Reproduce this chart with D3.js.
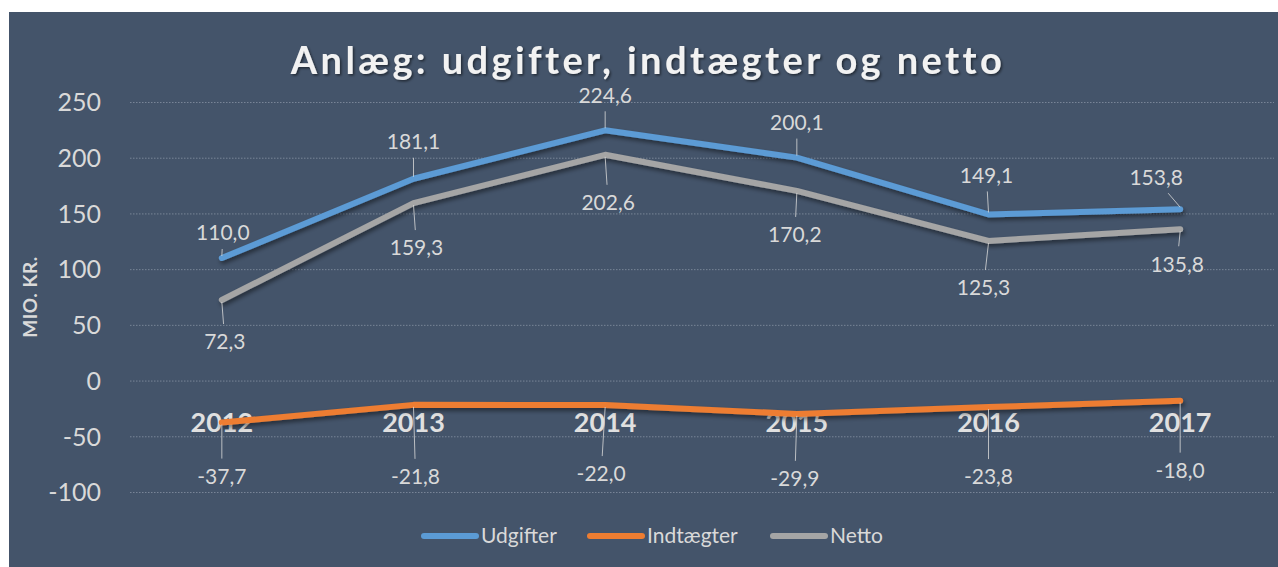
<!DOCTYPE html>
<html lang="da">
<head>
<meta charset="UTF-8">
<title>Anlæg: udgifter, indtægter og netto</title>
<style>
  body { margin: 0; background: #fff; }
  svg { display: block; }
  text { font-family: Lato, "Open Sans", sans-serif; }
</style>
</head>
<body>
<div id="chart"></div>
<script src="https://d3js.org/d3.v7.min.js"></script>
<script>
// data
var years = ["2012", "2013", "2014", "2015", "2016", "2017"];
var udgifter = [110.0, 181.1, 224.6, 200.1, 149.1, 153.8];
var indtaegter = [-37.7, -21.8, -22.0, -29.9, -23.8, -18.0];
var netto = [72.3, 159.3, 202.6, 170.2, 125.3, 135.8];
var yTicks = [-100, -50, 0, 50, 100, 150, 200, 250];

// label offsets (px) from the point, per series
var udgOff = [[1, -25], [0, -37], [0, -35], [0, -35], [-2, -39], [-24, -32]];
var indOff = [[0, 54], [2, 72], [-4, 69], [-2, 65], [0, 70], [0, 70]];
var netOff = [[3, 42], [3, 45], [3, 48], [-2, 44], [-5, 47], [-3, 35]];

var W = 1278, H = 567;

var svg = d3.select("#chart").append("svg")
    .attr("width", W)
    .attr("height", H);

// shadow for lines and title
var defs = svg.append("defs");
var f = defs.append("filter").attr("id", "shadow")
    .attr("x", "-5%").attr("y", "-20%").attr("width", "110%").attr("height", "160%");
f.append("feDropShadow").attr("dx", 1.5).attr("dy", 3).attr("stdDeviation", 2)
    .attr("flood-color", "#000").attr("flood-opacity", 0.45);
var ft = defs.append("filter").attr("id", "tshadow");
ft.append("feDropShadow").attr("dx", 1.5).attr("dy", 1.5).attr("stdDeviation", 1.2)
    .attr("flood-color", "#000").attr("flood-opacity", 0.5);

// panel
svg.append("rect")
    .attr("x", 9).attr("y", 12)
    .attr("width", W - 9).attr("height", H - 12)
    .attr("fill", "#44546a");

var x = d3.scalePoint().domain(years).range([126, 1276]).padding(0.5);
var y = d3.scaleLinear().domain([-100, 250]).range([492, 102]);

// grid
svg.append("g").selectAll("line")
    .data(yTicks)
    .enter().append("line")
    .attr("x1", 130).attr("x2", 1274)
    .attr("y1", function(d) { return y(d) + 0.5; })
    .attr("y2", function(d) { return y(d) + 0.5; })
    .attr("stroke", "#8a95a6")
    .attr("stroke-width", 1)
    .attr("stroke-dasharray", "1.5,1.5")
    .attr("opacity", 0.75);

// y axis labels
var yAxis = d3.axisLeft(y).tickValues(yTicks).tickSize(0).tickPadding(0)
    .tickFormat(function(d) { return d3.format("d")(d).replace("−", "-"); });
var ya = svg.append("g").attr("transform", "translate(101,0)").call(yAxis);
ya.select(".domain").remove();
ya.selectAll("text")
    .attr("fill", "#d9d9d9")
    .style("font-size", "25px")
    .style("font-family", "Lato, sans-serif")
    .attr("dy", "0.35em");

// y axis title
svg.append("text")
    .attr("transform", "translate(37,297) rotate(-90)")
    .attr("text-anchor", "middle")
    .attr("fill", "#d9d9d9")
    .style("font-size", "19px")
    .style("font-weight", "bold")
    .style("letter-spacing", "0.5px")
    .text("MIO. KR.");

// title
svg.append("text")
    .attr("x", 648).attr("y", 74)
    .attr("text-anchor", "middle")
    .attr("fill", "#f2f2f2")
    .attr("filter", "url(#tshadow)")
    .style("font-size", "38px")
    .style("font-weight", "bold")
    .style("letter-spacing", "3.4px")
    .text("Anlæg: udgifter, indtægter og netto");

var series = [
  { name: "Udgifter", values: udgifter, color: "#5b9bd5", off: udgOff },
  { name: "Indtægter", values: indtaegter, color: "#ed7d31", off: indOff },
  { name: "Netto", values: netto, color: "#a5a5a5", off: netOff }
];

var line = d3.line()
    .x(function(d, i) { return x(years[i]); })
    .y(function(d) { return y(d); });

// year labels (category axis)
svg.append("g").selectAll("text")
    .data(years)
    .enter().append("text")
    .attr("x", function(d) { return x(d); })
    .attr("y", y(0) + 51)
    .attr("text-anchor", "middle")
    .attr("fill", "#e0e0e0")
    .style("font-size", "27px")
    .style("font-weight", "bold")
    .text(function(d) { return d; });

// lines
series.forEach(function(s) {
  svg.append("path")
      .datum(s.values)
      .attr("d", line)
      .attr("fill", "none")
      .attr("stroke", s.color)
      .attr("stroke-width", 6)
      .attr("stroke-linecap", "round")
      .attr("stroke-linejoin", "round")
      .attr("filter", "url(#shadow)");
});

var fmt = function(v) { return d3.format(".1f")(v).replace("−", "-").replace(".", ","); };

// data labels with leader lines
series.forEach(function(s) {
  var g = svg.append("g");
  s.values.forEach(function(v, i) {
    var px = x(years[i]), py = y(v);
    var lx = px + s.off[i][0], ly = py + s.off[i][1];
    var down = s.off[i][1] > 0;
    var y0 = py + (down ? 2 : -2);
    var y1 = down ? ly - 18 : ly + 16;
    if (Math.abs(y1 - y0) > 6) {
      var t = (y1 - py) / (ly - py);
      var x1 = px + (lx - px) * t;
      g.append("line")
          .attr("x1", px).attr("y1", y0)
          .attr("x2", x1).attr("y2", y1)
          .attr("stroke", "#d9d9d9")
          .attr("stroke-width", 1)
          .attr("opacity", 0.8);
    }
    g.append("text")
        .attr("x", lx).attr("y", ly)
        .attr("dy", "0.35em")
        .attr("text-anchor", "middle")
        .attr("fill", "#d9d9d9")
        .style("font-size", "21px")
        .text(fmt(v));
  });
});

// legend
var legX = [421, 587, 770];
var leg = svg.append("g");
series.forEach(function(s, i) {
  leg.append("line")
      .attr("x1", legX[i] + 3).attr("x2", legX[i] + 55)
      .attr("y1", 536).attr("y2", 536)
      .attr("stroke", s.color)
      .attr("stroke-width", 6)
      .attr("stroke-linecap", "round");
  leg.append("text")
      .attr("x", legX[i] + 60).attr("y", 536)
      .attr("dy", "0.35em")
      .attr("fill", "#d9d9d9")
      .style("font-size", "21px")
      .text(s.name);
});
</script>
</body>
</html>
